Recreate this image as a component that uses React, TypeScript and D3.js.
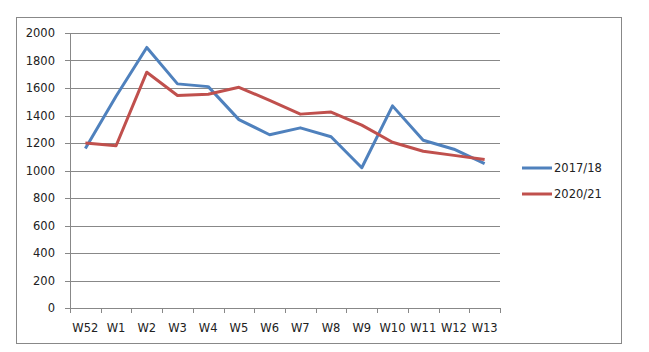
import React from 'react'
import {scaleBand,scaleLinear,line} from "d3"

const weeks = ["W52","W1","W2","W3","W4","W5","W6","W7","W8","W9","W10","W11","W12","W13"]
const s2017 = [1160,1540,1895,1630,1610,1370,1260,1310,1245,1020,1470,1220,1155,1050]
const s2021 = [1200,1180,1715,1545,1555,1605,1510,1410,1425,1330,1205,1140,1110,1080]
const yTicks = [0,200,400,600,800,1000,1200,1400,1600,1800,2000]
const seriesNames = ["2017/18","2020/21"]
const colors = ["#4f81bd","#c0504d"]

const App = () => {
    const left = 70, right = 500, top = 33, bottom = 308
    const x = scaleBand().domain(weeks).range([left,right])
    const y = scaleLinear().domain([0,2000]).range([bottom,top])
    const mk = line<number>().x((d,i)=>x(weeks[i])! + x.bandwidth()/2).y(d=>y(d))
    const font = "'DejaVu Sans', Verdana, sans-serif"
    return (
        <svg width={649} height={352} style={{position:"absolute",left:0,top:0}}>
            <rect x={0} y={0} width={649} height={352} fill="#fff"/>
            <rect x={16.5} y={17.5} width={605} height={326} fill="#fff" stroke="#888" strokeWidth={1}/>
            {yTicks.map(t=>(
                <g key={t}>
                    <line x1={left-5} x2={right} y1={Math.round(y(t))+0.5} y2={Math.round(y(t))+0.5} stroke="#888"/>
                    <text x={left-15} y={y(t)} dy="0.35em" textAnchor="end" fontSize={11.5} fontFamily={font} fill="#222">{t}</text>
                </g>
            ))}
            <line x1={left+0.5} x2={left+0.5} y1={top} y2={bottom} stroke="#888"/>
            {weeks.concat([""]).map((w,i)=>{
                const xx = Math.round(left + i*x.step())+0.5
                return <line key={"t"+i} x1={xx} x2={xx} y1={bottom} y2={bottom+5} stroke="#888"/>
            })}
            {weeks.map(w=>(
                <text key={w} x={x(w)!+x.bandwidth()/2} y={328} dy="0.35em" textAnchor="middle" fontSize={11.5} fontFamily={font} fill="#222">{w}</text>
            ))}
            {[s2017,s2021].map((s,i)=>(
                <path key={i} d={mk(s)!} fill="none" stroke={colors[i]} strokeWidth={3} strokeLinejoin="round"/>
            ))}
            {seriesNames.map((n,i)=>(
                <g key={n}>
                    <line x1={522} x2={552} y1={168+i*26} y2={168+i*26} stroke={colors[i]} strokeWidth={3}/>
                    <text x={554} y={168+i*26} dy="0.35em" fontSize={11.5} fontFamily={font} fill="#222">{n}</text>
                </g>
            ))}
        </svg>
    )
}

export default App
